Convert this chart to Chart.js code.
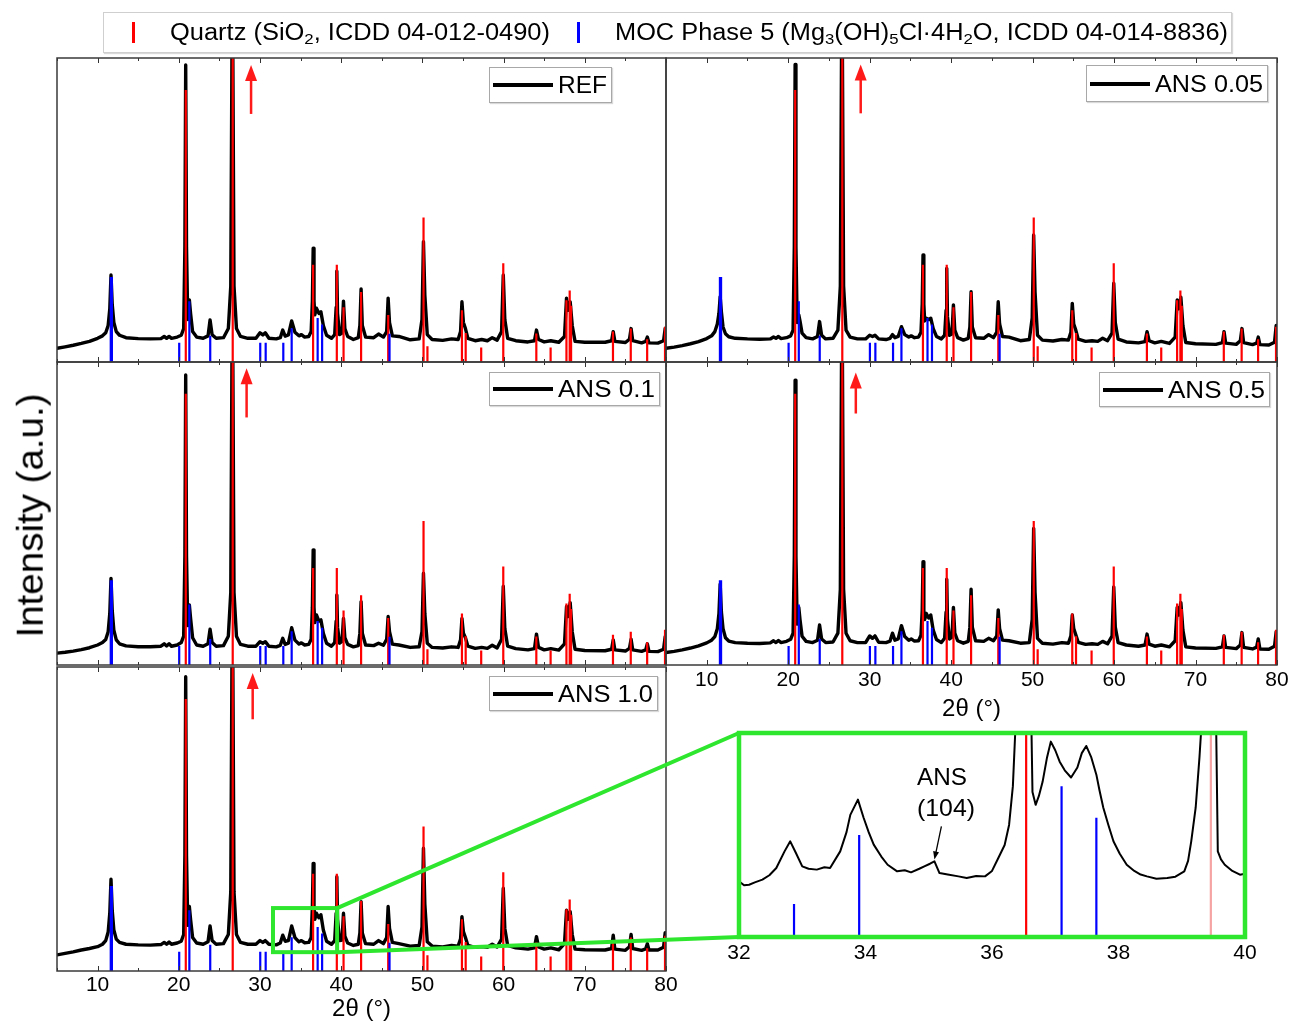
<!DOCTYPE html>
<html>
<head>
<meta charset="utf-8">
<title>XRD patterns</title>
<script src="https://cdn.jsdelivr.net/npm/chart.js@4.4.1/dist/chart.umd.min.js"></script>
<style>
html,body{margin:0;padding:0;background:#fff;}
body{width:1290px;height:1024px;position:relative;overflow:hidden;font-family:"Liberation Sans",Arial,Helvetica,sans-serif;color:#000;}
.box{position:absolute;box-sizing:border-box;border:1px solid #a8a8a8;background:#fff;box-shadow:1px 1px 1px rgba(0,0,0,0.15);z-index:3;}
.txt{position:absolute;white-space:nowrap;transform-origin:0 50%;line-height:1;z-index:4;}
.sub{font-size:0.66em;position:relative;top:0.3em;}
.mark{position:absolute;z-index:4;}
canvas{display:block;}
</style>
</head>
<body>
<script>
// ---------------- DATA ----------------
// 2θ grid (degrees) shared by the five full patterns
const twoTheta = [
  5, 6, 7, 8, 9, 10, 10.6, 11.0, 11.3, 11.5, 11.65, 11.8, 12.0, 12.3, 12.7,
  13.5, 15, 16.5, 17.8, 18.2, 18.5, 18.8, 19.1, 19.8, 20.3,
  20.6, 20.75, 20.85, 20.95, 21.1, 21.3, 21.45, 21.7, 22.2, 23.0, 23.6, 23.85, 24.1, 24.6,
  25.5, 26.1, 26.4, 26.6, 26.8, 27.1, 27.6, 28.5, 29.5, 30.0, 30.35, 30.65, 31.1,
  32.0, 32.5, 32.8, 33.1, 33.5, 33.9, 34.3, 34.8, 35.1, 35.5, 36.0, 36.3,
  36.45, 36.55, 36.65, 36.75, 36.95, 37.25, 37.5, 37.8, 38.2, 38.8, 39.2, 39.38, 39.46, 39.55, 39.8,
  40.1, 40.28, 40.45, 40.8, 41.5, 42.1, 42.3, 42.45, 42.6, 43.0, 44.0, 44.6, 45.2, 45.6, 45.78, 45.95, 46.3,
  47.1, 48.5, 49.6, 49.95, 50.13, 50.3, 50.6, 51.2, 52.5, 53.6, 54.4, 54.7, 54.87, 55.05, 55.3, 55.6,
  56.5, 57.3, 58.0, 58.6, 59.2, 59.75, 59.96, 60.15, 60.5, 61.5, 63.0, 63.8, 64.05, 64.3,
  65.0, 65.8, 66.8, 67.5, 67.75, 67.95, 68.2, 68.45, 68.8, 70,
  72.5, 73.3, 73.5, 73.7, 75.0, 75.5, 75.7, 75.9, 77.0, 77.5, 77.7, 77.9, 79.0, 79.7, 79.9, 80
];
// intensities (a.u., % of panel height)
const refI = [
  4.5, 5.0, 5.5, 6.1, 6.8, 7.8, 8.6, 9.6, 12.0, 17.5, 28.6, 19.0, 13.0, 10.0, 8.8,
  8.0, 7.7, 7.6, 7.7, 8.4, 7.8, 8.4, 7.8, 8.2, 8.8,
  11.0, 38, 97.7, 38, 14.0, 20.4, 16.0, 10.0, 8.2, 7.8, 8.6, 13.8, 9.0, 7.8,
  8.0, 11.0, 25, 130, 25, 11.0, 8.4, 7.8, 7.8, 9.6, 8.9, 9.6, 7.8,
  7.6, 8.0, 10.5, 8.5, 8.9, 13.5, 9.8, 8.6, 9.0, 8.2, 8.4, 10.0,
  20, 37.4, 20, 15.5, 17.7, 16.0, 16.5, 12.0, 8.8, 7.8, 9.0, 18, 29.9, 16, 9.0,
  9.5, 20.0, 11.0, 8.4, 7.4, 8.0, 12.0, 24.0, 12.0, 8.2, 8.0, 9.2, 8.2, 10.0, 21.0, 13.0, 8.6,
  8.4, 7.3, 7.6, 14.0, 39.6, 22.0, 9.0, 7.4, 7.1, 7.6, 7.4, 10.0, 19.8, 13.0, 11.0, 7.8,
  7.0, 7.4, 7.0, 8.0, 7.2, 10.0, 28.6, 14.0, 7.8, 7.0, 6.6, 7.0, 10.5, 7.4,
  6.6, 7.0, 6.5, 8.4, 21.0, 17.0, 19.8, 12.0, 6.8, 6.5,
  6.5, 7.0, 10.0, 6.8, 6.4, 7.5, 11.0, 7.0, 6.3, 6.8, 8.2, 6.3, 6.2, 7.0, 11.0, 10.0
];
const ans005I = [
  4.5, 4.9, 5.4, 6.0, 6.7, 7.7, 8.6, 10.0, 12.5, 16.0, 21.5, 16.5, 11.5, 9.3, 8.3,
  7.8, 7.6, 7.5, 7.6, 8.2, 7.8, 8.4, 7.7, 8.0, 8.6,
  10.5, 38, 97.9, 38, 13.0, 15.5, 13.5, 9.5, 8.0, 7.6, 8.4, 13.3, 8.8, 7.6,
  7.8, 10.5, 25, 130, 25, 10.5, 8.2, 7.6, 7.6, 8.8, 8.4, 8.8, 7.6,
  7.4, 7.8, 9.0, 8.0, 8.4, 11.6, 9.0, 8.2, 8.6, 8.0, 8.2, 9.8,
  19, 35.2, 19, 13.5, 14.4, 14.0, 14.4, 11.0, 8.4, 7.6, 8.8, 17, 30.8, 15, 8.8,
  9.2, 18.8, 10.5, 8.0, 7.2, 7.8, 11.5, 23.1, 11.5, 8.0, 7.8, 9.0, 8.0, 9.8, 19.8, 12.5, 8.4,
  8.2, 7.0, 7.4, 14.5, 41.8, 23.0, 8.8, 7.2, 6.9, 7.4, 7.2, 9.8, 19.3, 12.5, 10.5, 7.5,
  6.8, 7.0, 6.8, 7.8, 7.0, 9.5, 25.9, 13.0, 7.5, 6.6, 6.3, 6.7, 10.0, 7.0,
  6.3, 6.8, 6.1, 8.2, 20.4, 17.5, 21.3, 12.0, 6.4, 6.0,
  5.8, 6.4, 10.0, 6.2, 5.8, 7.0, 11.0, 6.4, 5.7, 6.2, 8.2, 5.7, 5.6, 6.5, 12.0, 10.5
];
const ans01I = [
  3.9, 4.2, 4.6, 5.1, 5.7, 6.6, 7.4, 8.4, 11.0, 17.0, 28.6, 18.0, 11.5, 8.3, 7.0,
  6.3, 6.0, 6.0, 6.2, 7.0, 6.3, 7.0, 6.2, 6.6, 7.4,
  9.5, 36, 95.7, 36, 13.0, 19.8, 15.5, 9.0, 6.6, 6.2, 7.0, 11.8, 7.4, 6.2,
  6.4, 9.5, 24, 130, 24, 9.5, 6.8, 6.2, 6.2, 7.7, 7.2, 7.7, 6.2,
  6.0, 6.5, 8.8, 6.8, 7.2, 12.3, 8.2, 6.9, 7.3, 6.6, 6.8, 8.5,
  19, 38.0, 19, 14.0, 16.5, 14.5, 14.9, 10.5, 7.2, 6.2, 7.4, 14.5, 23.1, 12.5, 7.2,
  7.8, 15.4, 9.0, 6.8, 6.0, 6.4, 10.5, 20.9, 10.5, 6.6, 6.4, 7.2, 6.5, 8.5, 16.0, 11.0, 6.9,
  6.6, 5.8, 6.0, 11.0, 30.3, 17.0, 7.2, 5.8, 5.6, 6.0, 5.8, 8.3, 15.4, 10.5, 9.0, 6.2,
  5.5, 5.8, 5.5, 6.5, 5.6, 8.5, 26.0, 12.0, 6.2, 5.4, 5.0, 5.4, 10.2, 5.8,
  5.0, 5.4, 4.9, 7.0, 19.3, 16.0, 20.6, 11.0, 5.2, 4.8,
  4.7, 5.2, 8.3, 5.0, 4.6, 5.5, 8.5, 5.0, 4.5, 5.0, 7.0, 4.5, 4.4, 5.2, 9.3, 8.5
];
const ans05I = [
  4.1, 4.5, 5.0, 5.6, 6.3, 7.3, 8.2, 9.4, 12.0, 17.0, 26.7, 17.5, 12.0, 9.0, 7.9,
  7.4, 7.2, 7.1, 7.3, 8.0, 7.4, 8.1, 7.4, 7.8, 8.5,
  10.5, 36, 94.0, 36, 13.5, 19.0, 15.0, 9.5, 7.8, 7.4, 8.2, 13.2, 8.6, 7.4,
  7.6, 10.5, 25, 130, 25, 10.5, 8.0, 7.4, 7.4, 9.6, 8.8, 9.6, 7.5,
  7.4, 7.9, 10.5, 8.2, 8.6, 13.0, 9.4, 8.2, 8.6, 7.9, 8.0, 9.8,
  18, 34.1, 18, 15.0, 17.0, 15.5, 16.5, 11.5, 8.4, 7.4, 8.8, 17.5, 28.3, 15.0, 8.6,
  9.2, 19.0, 10.5, 8.0, 7.2, 7.8, 12.5, 25.0, 12.5, 8.0, 7.8, 8.8, 8.0, 9.6, 18.2, 12.0, 8.2,
  8.0, 7.2, 7.4, 15.0, 45.1, 24.0, 8.8, 7.2, 6.9, 7.4, 7.2, 9.6, 16.5, 12.0, 10.0, 7.5,
  6.8, 7.0, 6.8, 7.8, 7.0, 9.5, 25.8, 12.5, 7.4, 6.6, 6.2, 6.6, 10.2, 6.9,
  6.2, 6.6, 6.0, 8.0, 19.0, 16.5, 20.6, 11.5, 6.0, 5.6,
  5.5, 6.0, 9.6, 5.8, 5.4, 6.6, 10.7, 5.8, 5.3, 5.9, 8.6, 5.3, 5.2, 6.2, 11.0, 10.0
];
const ans10I = [
  5.3, 5.8, 6.3, 6.9, 7.4, 8.0, 8.8, 10.0, 12.8, 19.0, 30.2, 20.0, 13.5, 10.5, 9.4,
  8.8, 8.6, 8.5, 8.7, 9.4, 8.8, 9.5, 8.8, 9.2, 9.8,
  12.0, 38, 96.8, 38, 15.0, 21.2, 17.0, 11.0, 9.2, 8.8, 9.6, 14.8, 10.0, 8.8,
  9.0, 12.0, 26, 130, 26, 12.0, 9.4, 8.8, 8.8, 10.0, 9.4, 10.0, 8.8,
  8.6, 9.2, 11.8, 9.8, 10.0, 14.8, 11.0, 9.6, 10.0, 9.3, 9.4, 11.0,
  21, 35.4, 21, 17.0, 19.0, 17.5, 18.5, 13.5, 9.8, 8.8, 10.0, 19.0, 31.0, 17.0, 10.0,
  10.2, 19.0, 11.5, 9.2, 8.4, 8.8, 12.5, 22.8, 12.5, 9.0, 8.8, 10.0, 9.0, 11.0, 21.2, 14.0, 9.4,
  9.0, 8.2, 8.4, 14.5, 40.4, 22.0, 9.6, 8.2, 7.9, 8.4, 8.2, 10.6, 17.9, 13.0, 11.0, 8.4,
  7.8, 8.0, 7.8, 8.8, 7.9, 10.5, 27.2, 14.0, 8.4, 7.6, 7.2, 7.6, 11.3, 7.9,
  7.2, 7.6, 7.0, 9.0, 20.0, 17.0, 19.5, 12.0, 7.2, 7.0,
  6.9, 7.4, 11.8, 7.2, 6.8, 8.0, 12.0, 7.4, 6.8, 7.3, 9.0, 6.9, 6.9, 7.8, 12.6, 11.5
];
// zoomed ANS 1.0 pattern (32–40°)
const insetTheta = [
  32.0, 32.08, 32.16, 32.25, 32.37, 32.48, 32.59, 32.72, 32.81, 32.9, 33.0, 33.1, 33.23, 33.35, 33.44,
  33.6, 33.7, 33.76, 33.88, 33.97, 34.05, 34.13, 34.25, 34.35, 34.5, 34.62, 34.72, 34.85, 34.93, 35.02,
  35.09, 35.17, 35.3, 35.47, 35.6, 35.75, 35.89, 36.0, 36.1, 36.2, 36.27, 36.33, 36.38, 36.55, 36.62,
  36.64, 36.69, 36.74, 36.8, 36.87, 36.93, 37.0, 37.07, 37.15, 37.25, 37.35, 37.42, 37.49, 37.57, 37.65,
  37.7, 37.76, 37.84, 37.92, 38.02, 38.13, 38.25, 38.35, 38.45, 38.6, 38.77, 38.9, 39.04, 39.1, 39.15,
  39.22, 39.28, 39.33, 39.46, 39.54, 39.57, 39.62, 39.68, 39.8, 39.92, 40.0
];
const insetI = [
  7.87, 7.6, 7.64, 7.8, 7.99, 8.3, 8.8, 9.96, 10.66, 9.85, 8.92, 8.75, 8.69, 8.85, 8.8,
  9.96, 11.3, 12.5, 13.56, 12.3, 11.3, 10.43, 9.6, 9.03, 8.57, 8.65, 8.5, 8.75, 8.92, 9.1,
  9.27, 8.45, 8.35, 8.22, 8.1, 8.25, 8.22, 8.6, 9.5, 10.4, 11.8, 14.5, 19.5, 35.4, 19.5,
  14.1, 13.2, 13.8, 14.8, 16.5, 17.6, 17.0, 16.2, 15.6, 15.1, 15.8, 16.8, 17.3, 16.5, 15.3,
  14.2, 13.0, 11.8, 10.66, 9.8, 9.03, 8.6, 8.35, 8.22, 8.05, 8.1, 8.2, 8.57, 9.3, 10.66,
  13.0, 16.5, 20, 31.0, 20, 9.96, 9.4, 9.03, 8.6, 8.34, 8.4
];
// reference stick patterns
const quartzPos = [20.86, 26.64, 36.54, 39.46, 40.29, 42.45, 45.79, 50.14, 50.62, 54.87, 55.33, 57.24, 59.96, 64.03, 65.79, 67.74, 68.14, 68.31, 73.47, 75.66, 77.68, 79.88];
const quartzRel = [89.5, 110, 32, 32, 18, 23, 15.5, 47.5, 5.2, 17, 9.5, 4.8, 32.5, 9.4, 4.8, 20.3, 23.5, 18.5, 10, 11, 7.5, 11.6];
const mocPos = [11.62, 11.76, 20.05, 21.3, 23.87, 30.03, 30.7, 32.87, 33.9, 37.1, 37.65, 45.95];
const mocRel = [28, 28, 6.3, 20, 8.6, 6.3, 6.3, 6.3, 11.1, 14.5, 12.3, 9.3];
// red arrows (2θ position, base and tip intensity) for the five panels
const arrowPos = [28.9, 28.9, 28.35, 28.3, 29.1];
const arrowBase = [81.6, 81.8, 81.7, 83.0, 82.8];
const arrowTip = [97.7, 97.9, 97.9, 96.5, 98.0];
// tick labels
const mainTicks = [10, 20, 30, 40, 50, 60, 70, 80];
const insetTicks = [32, 34, 36, 38, 40];
const sampleNames = ['REF', 'ANS 0.05', 'ANS 0.1', 'ANS 0.5', 'ANS 1.0'];
// zoom window on ANS 1.0 and inset ranges
const zoomWin = {x0: 31.6, x1: 39.5, y0: 6.2, y1: 20.7};
const insetRange = {x0: 32, x1: 40, y0: 4, y1: 18.2};
const annot104 = {x0: 35.2, y0: 11.7, x1: 35.09, y1: 9.4};

// ---------------- RENDER ----------------
const FONT = '"Liberation Sans", Arial, Helvetica, sans-serif';
const RED = '#ff0000', BLUE = '#0000ff', GREEN = '#2fe62f';
Chart.defaults.font.family = FONT;

function sticks(pos, rel) {
  const out = [];
  pos.forEach((p, i) => { out.push({x: p, y: 0}, {x: p, y: rel[i]}, {x: p, y: null}); });
  return out;
}
function pattern(xs, ys) { return xs.map((x, i) => ({x, y: ys[i]})); }

const decor = {
  id: 'decor',
  afterDatasetsDraw(chart, args, o) {
    const {ctx, chartArea: a, scales: {x, y}} = chart;
    ctx.save();
    if (o.ticks) {
      ctx.strokeStyle = '#333'; ctx.lineWidth = 1;
      for (let v = Math.ceil(x.min / 5) * 5; v <= x.max; v += 5) {
        const px = Math.round(x.getPixelForValue(v)) + 0.5;
        const len = v % 10 === 0 ? 5 : 3;
        ctx.beginPath();
        ctx.moveTo(px, a.top); ctx.lineTo(px, a.top + len);
        ctx.moveTo(px, a.bottom); ctx.lineTo(px, a.bottom - len);
        ctx.stroke();
      }
    }
    if (o.frame) {
      ctx.strokeStyle = o.frame.color; ctx.lineWidth = o.frame.width;
      ctx.strokeRect(a.left, a.top, a.right - a.left, a.bottom - a.top);
    }
    if (o.arrow) {
      const px = x.getPixelForValue(o.arrow.x);
      const yb = y.getPixelForValue(o.arrow.base), yt = y.getPixelForValue(o.arrow.tip);
      ctx.strokeStyle = ctx.fillStyle = '#ff1a1a'; ctx.lineWidth = 2.5;
      ctx.beginPath(); ctx.moveTo(px, yb); ctx.lineTo(px, yt + 12); ctx.stroke();
      ctx.beginPath(); ctx.moveTo(px, yt); ctx.lineTo(px - 6, yt + 16); ctx.lineTo(px + 6, yt + 16); ctx.closePath(); ctx.fill();
    }
    if (o.zoomBox) {
      const z = o.zoomBox;
      const x0 = x.getPixelForValue(z.x0), x1 = x.getPixelForValue(z.x1);
      const y0 = y.getPixelForValue(z.y0), y1 = y.getPixelForValue(z.y1);
      ctx.strokeStyle = GREEN; ctx.lineWidth = 4;
      ctx.strokeRect(x0, y1, x1 - x0, y0 - y1);
    }
    if (o.note) {
      const n = o.note;
      const x0 = x.getPixelForValue(n.x0), y0 = y.getPixelForValue(n.y0);
      const x1 = x.getPixelForValue(n.x1), y1 = y.getPixelForValue(n.y1);
      const ang = Math.atan2(y1 - y0, x1 - x0);
      ctx.strokeStyle = ctx.fillStyle = '#000'; ctx.lineWidth = 1.3;
      ctx.beginPath(); ctx.moveTo(x0, y0); ctx.lineTo(x1 - 6 * Math.cos(ang), y1 - 6 * Math.sin(ang)); ctx.stroke();
      ctx.beginPath(); ctx.moveTo(x1, y1);
      ctx.lineTo(x1 - 8 * Math.cos(ang) + 3 * Math.sin(ang), y1 - 8 * Math.sin(ang) - 3 * Math.cos(ang));
      ctx.lineTo(x1 - 8 * Math.cos(ang) - 3 * Math.sin(ang), y1 - 8 * Math.sin(ang) + 3 * Math.cos(ang));
      ctx.closePath(); ctx.fill();
    }
    ctx.restore();
  }
};

const PADX = 16, PADT = 5;
function makeChart(cfg) {
  const [l, t, r, b] = cfg.area;
  const axisH = cfg.axisH || 0;
  const padB = axisH ? 0 : 5;
  const W = r - l + 2 * PADX, H = b - t + PADT + (axisH || padB);
  const wrap = document.createElement('div');
  wrap.style.cssText = `position:absolute;left:${l - PADX}px;top:${t - PADT}px;width:${W}px;height:${H}px;z-index:${cfg.z || 1};`;
  const cv = document.createElement('canvas');
  cv.width = W; cv.height = H; cv.style.width = W + 'px'; cv.style.height = H + 'px';
  wrap.appendChild(cv); document.body.appendChild(wrap);
  const chart = new Chart(cv.getContext('2d'), {
    type: 'line',
    data: {datasets: [
      {data: cfg.data, borderColor: '#000', borderWidth: cfg.lineW || 3.4, pointRadius: 0, tension: 0,
       borderJoinStyle: 'round', borderCapStyle: 'round', order: 3, clip: 0},
      {data: sticks(quartzPos, quartzRel), borderColor: RED, borderWidth: 2.2, pointRadius: 0, spanGaps: false, order: 2, clip: 0,
       segment: cfg.pinkAt ? {borderColor: c => (c.p0.parsed.x === cfg.pinkAt ? '#f6a3a3' : undefined)} : undefined},
      {data: sticks(mocPos, mocRel), borderColor: BLUE, borderWidth: 2.2, pointRadius: 0, spanGaps: false, order: 1, clip: 0}
    ]},
    options: {
      responsive: false, animation: false, devicePixelRatio: 1, events: [],
      layout: {padding: {left: PADX, right: PADX, top: PADT, bottom: padB}},
      plugins: {legend: {display: false}, tooltip: {enabled: false},
        decor: {ticks: cfg.ticks !== false, frame: cfg.frame || {color: '#3a3a3a', width: 1.5},
                arrow: cfg.arrow, zoomBox: cfg.zoomBox, note: cfg.note}},
      scales: {
        x: {type: 'linear', min: cfg.xr[0], max: cfg.xr[1], display: !!axisH, position: 'bottom',
            afterBuildTicks: s => { s.ticks = (cfg.tickVals || mainTicks).map(v => ({value: v})); },
            afterFit: s => { s.height = axisH; },
            grid: {display: false, drawTicks: false}, border: {display: false},
            ticks: {font: {family: FONT, size: 21}, color: '#000', padding: cfg.labPad || 2, autoSkip: false, maxRotation: 0, minRotation: 0},
            title: {display: !!cfg.title, text: '2θ (°)', font: {family: FONT, size: 24}, color: '#000', padding: {top: 0, bottom: 0}}},
        y: {type: 'linear', min: cfg.yr[0], max: cfg.yr[1], display: false}
      }
    },
    plugins: [decor]
  });
  return {chart, ox: l - PADX, oy: t - PADT};
}

const series = [refI, ans005I, ans01I, ans05I, ans10I];
const defs = [
  {area: [57, 58, 666, 362], legend: [489, 67, 612, 103]},
  {area: [666, 58, 1277, 362], legend: [1086, 65, 1268, 102]},
  {area: [57, 362, 666, 665], legend: [489, 372, 660, 406]},
  {area: [666, 362, 1277, 665], legend: [1099, 372, 1270, 407], axisH: 59, labPad: 3, title: true},
  {area: [57, 667, 666, 971], legend: [489, 676, 658, 711], axisH: 53, labPad: 2, title: true, zoomBox: zoomWin}
];
const charts = defs.map((d, i) => makeChart(Object.assign({}, d, {
  data: pattern(twoTheta, series[i]), xr: [5, 80], yr: [0, 100],
  arrow: {x: arrowPos[i], base: arrowBase[i], tip: arrowTip[i]}
})));
const inset = makeChart({
  area: [739, 733, 1245, 937], axisH: 26, labPad: 4, title: false, z: 2,
  data: pattern(insetTheta, insetI), xr: [insetRange.x0, insetRange.x1], yr: [insetRange.y0, insetRange.y1],
  tickVals: insetTicks, ticks: false, lineW: 2, pinkAt: 39.46,
  frame: {color: GREEN, width: 4.5}, note: annot104
});

// connector lines from zoom window to inset
(function () {
  const ov = document.createElement('canvas');
  ov.width = 1290; ov.height = 1024;
  ov.style.cssText = 'position:absolute;left:0;top:0;width:1290px;height:1024px;z-index:5;pointer-events:none;';
  document.body.appendChild(ov);
  const c = ov.getContext('2d');
  const p5 = charts[4], s = p5.chart.scales;
  const xr = s.x.getPixelForValue(zoomWin.x1) + p5.ox;
  const yt = s.y.getPixelForValue(zoomWin.y1) + p5.oy;
  const yb = s.y.getPixelForValue(zoomWin.y0) + p5.oy;
  const ia = inset.chart.chartArea;
  c.strokeStyle = GREEN; c.lineWidth = 4;
  c.beginPath();
  c.moveTo(xr, yt); c.lineTo(ia.left + inset.ox, ia.top + inset.oy);
  c.moveTo(xr, yb); c.lineTo(ia.left + inset.ox, ia.bottom + inset.oy);
  c.stroke();
})();

// ---------------- TEXT (HTML) ----------------
const fitters = [];
function addText(html, left, cy, size, width, extra) {
  const el = document.createElement('div');
  el.className = 'txt';
  el.innerHTML = html;
  el.style.fontSize = size + 'px';
  el.style.left = left + 'px';
  el.style.top = (cy - size * 0.49) + 'px';
  if (extra) Object.assign(el.style, extra);
  document.body.appendChild(el);
  fitters.push({el, width});
  return el;
}
function addBox(l, t, r, b, style) {
  const d = document.createElement('div');
  d.className = 'box';
  d.style.left = l + 'px'; d.style.top = t + 'px';
  d.style.width = (r - l) + 'px'; d.style.height = (b - t) + 'px';
  if (style) Object.assign(d.style, style);
  document.body.appendChild(d);
}
function addMark(l, t, w, h, color) {
  const d = document.createElement('div');
  d.className = 'mark';
  d.style.cssText += `left:${l}px;top:${t}px;width:${w}px;height:${h}px;background:${color};`;
  document.body.appendChild(d);
}

// top legend
addBox(103, 12, 1232, 53, {border: '1px solid #cfcfcf'});
addMark(132, 22, 3, 21, RED);
addText('Quartz (SiO<span class="sub">2</span>, ICDD 04-012-0490)', 170, 32, 23, 380);
addMark(577, 22, 3, 21, BLUE);
addText('MOC Phase 5 (Mg<span class="sub">3</span>(OH)<span class="sub">5</span>Cl·4H<span class="sub">2</span>O, ICDD 04-014-8836)', 615, 32, 23, 613);

// panel legends
defs.forEach((d, i) => {
  const [l, t, r, b] = d.legend;
  addBox(l, t, r, b);
  const cy = (t + b) / 2;
  addMark(l + 4, cy - 2, 60, 4, '#000');
  addText(sampleNames[i], l + 69, cy, 24, r - 5 - (l + 69));
});

// y label
const yl = addText('Intensity (a.u.)', 0, 0, 37, 244);
yl.dataset.rot = '1';

// inset annotation
addText('ANS', 917, 777, 24, 50);
addText('(104)', 917, 808, 24, 58);

function fitAll() {
  fitters.forEach(f => {
    f.el.style.transform = 'none';
    const w = f.el.getBoundingClientRect().width;
    const k = f.width / w;
    if (f.el.dataset.rot) {
      const h = parseFloat(f.el.style.fontSize);
      f.el.style.transformOrigin = '50% 50%';
      f.el.style.left = (30 - w / 2) + 'px';
      f.el.style.top = (515 - h / 2) + 'px';
      f.el.style.transform = `rotate(-90deg) scaleX(${k})`;
    } else {
      f.el.style.transform = `scaleX(${k})`;
    }
  });
}
fitAll();
if (document.fonts && document.fonts.ready) document.fonts.ready.then(fitAll);
</script>
</body>
</html>
